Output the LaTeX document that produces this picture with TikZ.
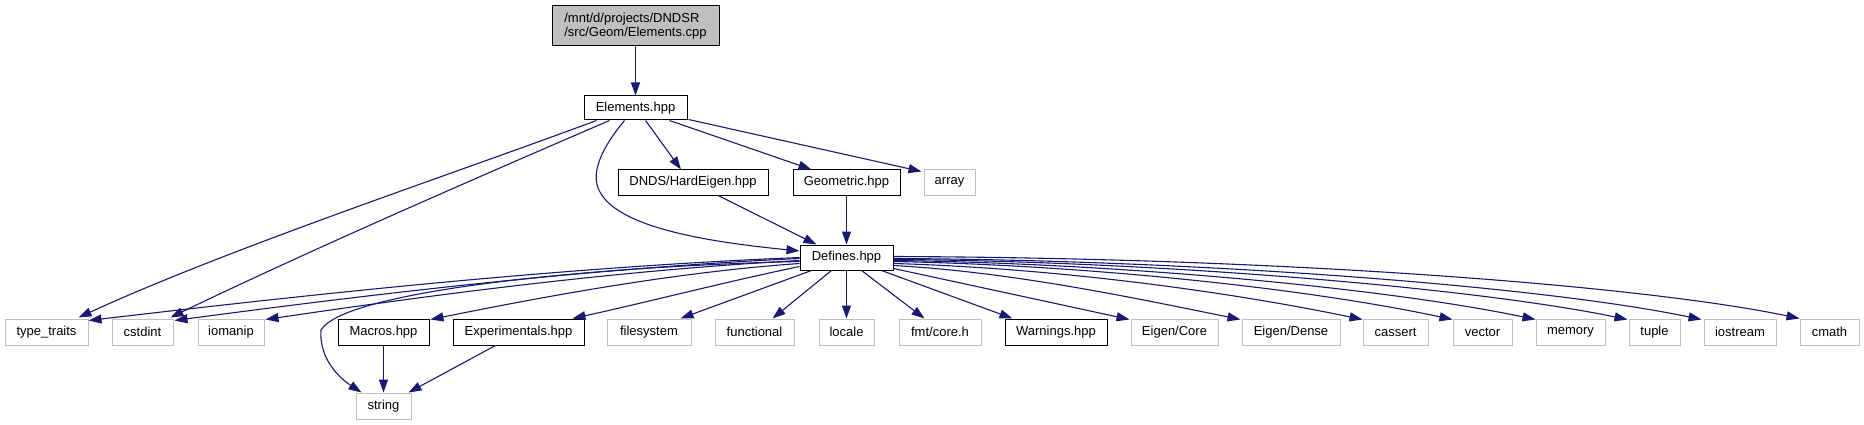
\documentclass[tikz,border=0pt]{standalone}
\usepackage{fontspec}
\setmainfont{Liberation Sans}
\usetikzlibrary{arrows.meta,calc}
\definecolor{edgec}{HTML}{191970}
\definecolor{grayb}{HTML}{BFBFBF}
\begin{document}
\begin{tikzpicture}[x=1pt,y=-1pt,
  nbox/.style={draw=black, fill=white, line width=1pt, inner sep=0pt, minimum height=25pt, font=\fontsize{13}{14.5}\selectfont},
  gbox/.style={nbox, draw=grayb},
  edge/.style={draw=edgec, line width=1.1pt, -{Triangle[length=13pt,width=9pt]}},
]
\fill[white] (0,0) rectangle (1864,425);
\useasboundingbox (0,0) rectangle (1864,425);

% nodes
\node[nbox, fill=grayb, minimum width=167pt, minimum height=40pt, align=left] (root) at (635.5,26) {/mnt/d/projects/DNDSR\\/src/Geom/Elements.cpp};
\node[nbox, minimum width=103pt, minimum height=24pt] (elem) at (635.5,108) {Elements.hpp};
\node[nbox, minimum width=150pt] (hard) at (693,182.5) {DNDS/HardEigen.hpp};
\node[nbox, minimum width=107pt] (geom) at (846.5,182.5) {Geometric.hpp};
\node[gbox, minimum width=51pt] (array) at (949.5,182.5) {array};
\node[nbox, minimum width=93pt] (def) at (846.5,257.5) {Defines.hpp};

\node[gbox, minimum width=83pt, minimum height=26pt] (tt) at (46.5,332) {type\_traits};
\node[gbox, minimum width=61pt, minimum height=26pt] (cstdint) at (142.5,332) {cstdint};
\node[gbox, minimum width=66pt, minimum height=26pt] (iomanip) at (231,332) {iomanip};
\node[nbox, minimum width=91pt, minimum height=26pt] (macros) at (383.5,332) {Macros.hpp};
\node[nbox, minimum width=131pt, minimum height=26pt] (exper) at (518.5,332) {Experimentals.hpp};
\node[gbox, minimum width=84pt, minimum height=26pt] (fs) at (649,332) {filesystem};
\node[gbox, minimum width=79pt, minimum height=26pt] (func) at (754.5,332) {functional};
\node[gbox, minimum width=55pt, minimum height=26pt] (locale) at (846.5,332) {locale};
\node[gbox, minimum width=82pt, minimum height=26pt] (fmt) at (940,332) {fmt/core.h};
\node[nbox, minimum width=102pt, minimum height=26pt] (warn) at (1056,332) {Warnings.hpp};
\node[gbox, minimum width=87pt, minimum height=26pt] (ecore) at (1174.5,332) {Eigen/Core};
\node[gbox, minimum width=98pt, minimum height=26pt] (edense) at (1291,332) {Eigen/Dense};
\node[gbox, minimum width=65pt, minimum height=26pt] (cassert) at (1395.5,332) {cassert};
\node[gbox, minimum width=59pt, minimum height=26pt] (vector) at (1482.5,332) {vector};
\node[gbox, minimum width=69pt, minimum height=26pt] (memory) at (1570.5,332) {memory};
\node[gbox, minimum width=51pt, minimum height=26pt] (tuple) at (1654.5,332) {tuple};
\node[gbox, minimum width=72pt, minimum height=26pt] (iostream) at (1740,332) {iostream};
\node[gbox, minimum width=59pt, minimum height=26pt] (cmath) at (1829.5,332) {cmath};
\node[gbox, minimum width=55pt, minimum height=26pt] (string) at (383.5,406) {string};

% edges from root / Elements
\draw[edge] (root.south) -- (elem.north);
\draw[edge] ($(elem.south west)+(13,0)$) .. controls (450,175) and (230,248) .. ($(tt.north east)+(-10,-1)$);
\draw[edge] ($(elem.south west)+(26,0)$) .. controls (490,172) and (310,250) .. ($(cstdint.north east)+(-3,-1)$);
\draw[edge] ($(elem.south west)+(41,0)$) .. controls (600,150) and (590,175) .. (600,192) .. controls (620,230) and (720,243) .. ($(def.west)+(0,-6.5)$);
\draw[edge] ($(elem.south west)+(62,0)$) -- ($(hard.north)+(-12,0)$);
\draw[edge] ($(elem.south west)+(86,0)$) -- ($(geom.north west)+(19,0)$);
\draw[edge] ($(elem.south east)+(1,-1)$) -- ($(array.north west)+(-2,2)$);
\draw[edge] ($(hard.south)+(25,0)$) -- ($(def.north west)+(17,0)$);
\draw[edge] (geom.south) -- (def.north);

% edges from Defines, left side
\draw[edge] ($(def.north west)+(0,13)$) .. controls (565,267) and (323,293) .. ($(tt.north east)+(0,2)$);
\draw[edge] ($(def.north west)+(0,14)$) .. controls (593,268) and (381,293) .. ($(cstdint.north east)+(1,2)$);
\draw[edge] ($(def.north west)+(0,16)$) .. controls (623,270) and (442,293.5) .. ($(iomanip.north east)+(1,1)$);
\draw[edge] ($(def.north west)+(0,17)$) .. controls (600,266) and (345,290) .. (321,330) .. controls (319,355) and (335,375) .. ($(string.north west)+(6,0)$);
\draw[edge] ($(def.north west)+(0,19)$) .. controls (678,272) and (552,295) .. ($(macros.north east)+(1,1)$);
\draw[edge] ($(def.north west)+(0,22)$) .. controls (725,282) and (648,302) .. ($(exper.north west)+(120,0)$);
\draw[edge] ($(def.south west)+(12,0)$) -- ($(fs.north east)+(-11,0)$);
\draw[edge] ($(def.south west)+(32,0)$) -- ($(func.north east)+(-22,0)$);
\draw[edge] (def.south) -- (locale.north);
\draw[edge] ($(def.south west)+(62,0)$) -- ($(fmt.north west)+(26,0)$);
\draw[edge] ($(def.south west)+(82,0)$) -- ($(warn.north west)+(8,0)$);

% edges from Defines, right side
\draw[edge] ($(def.south east)+(0,-2)$) -- ($(ecore.north west)+(-1,1)$);
\draw[edge] ($(def.north east)+(0,21)$) .. controls (1010,272) and (1125,296) .. ($(edense.north west)+(-1,1)$);
\draw[edge] ($(def.north east)+(0,19)$) .. controls (1050,268) and (1220,290) .. ($(cassert.north west)+(0,1)$);
\draw[edge] ($(def.north east)+(0,17)$) .. controls (1080,265) and (1300,287) .. ($(vector.north west)+(0,1)$);
\draw[edge] ($(def.north east)+(0,16)$) .. controls (1110,263) and (1380,287) .. ($(memory.north west)+(0,1)$);
\draw[edge] ($(def.north east)+(0,15)$) .. controls (1150,261) and (1470,287) .. ($(tuple.north west)+(-1,1)$);
\draw[edge] ($(def.north east)+(0,14)$) .. controls (1200,260) and (1540,286) .. ($(iostream.north west)+(-2,1)$);
\draw[edge] ($(def.north east)+(0,12)$) .. controls (1300,258) and (1650,287) .. ($(cmath.north west)+(0,0)$);

% edges into string
\draw[edge] (macros.south) -- (string.north);
\draw[edge] ($(exper.south west)+(43,0)$) -- ($(string.north east)+(-3,0)$);
\end{tikzpicture}
\end{document}
